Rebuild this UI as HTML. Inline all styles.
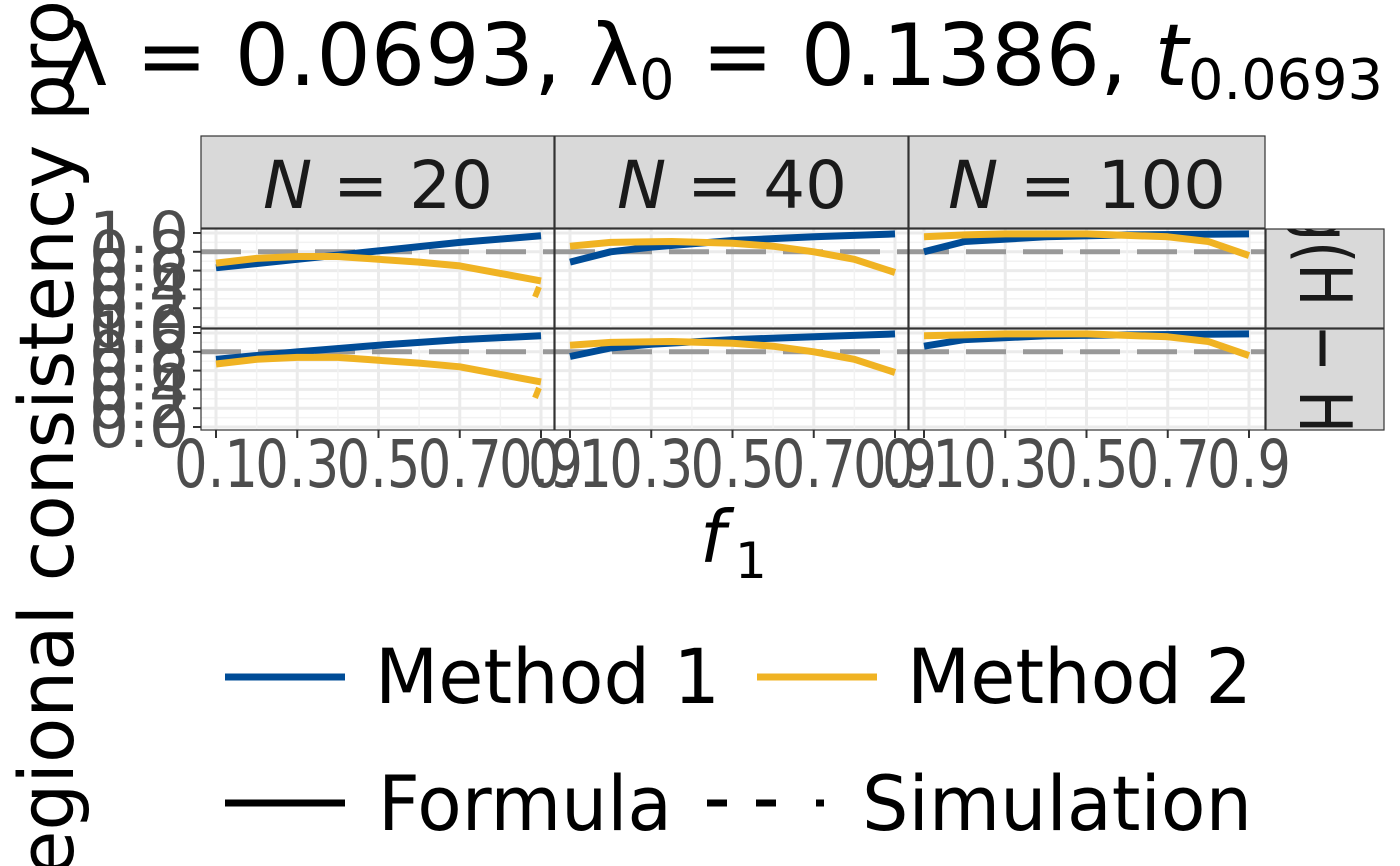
<!DOCTYPE html>
<html><head><meta charset="utf-8"><style>
html,body{margin:0;padding:0;background:#fff;width:1400px;height:866px;overflow:hidden}
svg{display:block}
text{font-family:"DejaVu Sans","Liberation Sans",sans-serif}
</style></head><body>
<svg id="s" width="1400" height="866" viewBox="0 0 1400 866" xmlns="http://www.w3.org/2000/svg">
<defs><clipPath id="cs"><rect x="1266" y="229" width="118" height="201"/></clipPath></defs>
<rect width="1400" height="866" fill="#fff"/>
<g id="panels"></g>
<!-- strips -->
<rect x="201" y="136" width="353" height="92" fill="#d9d9d9" stroke="#333" stroke-width="1.2"/>
<rect x="555" y="136" width="353" height="92" fill="#d9d9d9" stroke="#333" stroke-width="1.2"/>
<rect x="909" y="136" width="356" height="92" fill="#d9d9d9" stroke="#333" stroke-width="1.2"/>
<text x="378" y="208" font-size="66" text-anchor="middle" fill="#1a1a1a" textLength="230" lengthAdjust="spacingAndGlyphs"><tspan font-style="italic">N</tspan> = 20</text>
<text x="732" y="208" font-size="66" text-anchor="middle" fill="#1a1a1a" textLength="230" lengthAdjust="spacingAndGlyphs"><tspan font-style="italic">N</tspan> = 40</text>
<text x="1087" y="208" font-size="66" text-anchor="middle" fill="#1a1a1a" textLength="278" lengthAdjust="spacingAndGlyphs"><tspan font-style="italic">N</tspan> = 100</text>
<rect x="1266" y="229" width="118" height="99" fill="#d9d9d9" stroke="#333" stroke-width="1.2"/>
<rect x="1266" y="329" width="118" height="101" fill="#d9d9d9" stroke="#333" stroke-width="1.2"/>
<g clip-path="url(#cs)"><text transform="translate(1300,205) rotate(90)" font-size="72" fill="#1a1a1a" textLength="228" lengthAdjust="spacingAndGlyphs">g(H − H</text></g>
<!-- title -->
<text x="58" y="85" font-size="86" fill="#000" textLength="1325" lengthAdjust="spacingAndGlyphs">λ = 0.0693, λ<tspan font-size="56" dy="14">0</tspan><tspan dy="-14"> = 0.1386, </tspan><tspan font-style="italic">t</tspan><tspan font-size="56" dy="14">0.0693</tspan></text>
<!-- y title -->
<text transform="translate(73,905) rotate(-90)" font-size="76" fill="#000" textLength="905" lengthAdjust="spacingAndGlyphs">regional consistency pro</text>
<!-- x title -->
<text x="700" y="562" font-size="72" font-style="italic" fill="#000">f</text>
<text x="735" y="578" font-size="50" fill="#000">1</text>
<!-- legend -->
<line x1="225" y1="677" x2="345" y2="677" stroke="#004C97" stroke-width="7"/>
<text x="375" y="703" font-size="76" fill="#000" textLength="345" lengthAdjust="spacingAndGlyphs">Method 1</text>
<line x1="757" y1="677" x2="877" y2="677" stroke="#F0B323" stroke-width="7"/>
<text x="907" y="703" font-size="76" fill="#000" textLength="345" lengthAdjust="spacingAndGlyphs">Method 2</text>
<line x1="225" y1="803" x2="345" y2="803" stroke="#000" stroke-width="7"/>
<text x="378" y="830" font-size="76" fill="#000" textLength="294" lengthAdjust="spacingAndGlyphs">Formula</text>
<line x1="707" y1="803" x2="727" y2="803" stroke="#000" stroke-width="7"/>
<line x1="756" y1="803" x2="776" y2="803" stroke="#000" stroke-width="7"/>
<line x1="816" y1="803" x2="824" y2="803" stroke="#000" stroke-width="7"/>
<text x="862" y="830" font-size="76" fill="#000" textLength="390" lengthAdjust="spacingAndGlyphs">Simulation</text>
</svg>
<script>
(function(){
var NS="http://www.w3.org/2000/svg",g=document.getElementById("panels");
function el(t,a){var e=document.createElementNS(NS,t);for(var k in a)e.setAttribute(k,a[k]);g.appendChild(e);return e;}
var cols=[[201,554,216],[555,908,570],[909,1265,924]];
var rows=[[229,328,327],[329,430,427]];
var blue=[[[.1,.63],[.3,.72],[.5,.81],[.7,.9],[.9,.97]],[[.1,.69],[.2,.8],[.3,.85],[.5,.92],[.7,.96],[.9,.99]],[[.1,.8],[.2,.91],[.4,.96],[.6,.98],[.9,.99]]];
var blue2=[[[.1,.72],[.3,.8],[.5,.87],[.7,.93],[.9,.97]],[[.1,.75],[.2,.84],[.3,.88],[.5,.93],[.7,.96],[.9,.99]],[[.1,.86],[.2,.93],[.4,.97],[.6,.98],[.9,.99]]];
var orng=[[[.1,.68],[.2,.73],[.3,.75],[.4,.75],[.5,.72],[.6,.69],[.7,.65],[.8,.57],[.9,.49]],[[.1,.86],[.2,.9],[.35,.91],[.5,.89],[.6,.86],[.7,.8],[.8,.72],[.9,.58]],[[.1,.96],[.2,.98],[.3,.99],[.5,.99],[.7,.96],[.8,.91],[.9,.76]]];
var orng2=[[[.1,.67],[.2,.72],[.3,.74],[.4,.74],[.5,.71],[.6,.68],[.7,.64],[.8,.56],[.9,.48]],[[.1,.87],[.2,.9],[.35,.91],[.5,.89],[.6,.86],[.7,.8],[.8,.72],[.9,.58]],[[.1,.97],[.2,.98],[.3,.99],[.5,.99],[.7,.96],[.8,.91],[.9,.76]]];
for(var r=0;r<2;r++)for(var c=0;c<3;c++){
 var x0=cols[c][0],x1=cols[c][1],xb=cols[c][2],y0=rows[r][0],y1=rows[r][1],yb=rows[r][2];
 var X=function(f){return xb+(f-.1)*406.25},Y=function(v){return yb-94*v};
 el("rect",{x:x0,y:y0,width:x1-x0,height:y1-y0,fill:"#fff"});
 for(var v=0.1;v<1;v+=0.2)el("line",{x1:x0,x2:x1,y1:Y(v),y2:Y(v),stroke:"#f2f2f2","stroke-width":1.5});
 for(var v=0;v<=1.01;v+=0.2)el("line",{x1:x0,x2:x1,y1:Y(v),y2:Y(v),stroke:"#ebebeb","stroke-width":3});
 for(var f=0.2;f<0.9;f+=0.2)el("line",{x1:X(f),x2:X(f),y1:y0,y2:y1,stroke:"#f2f2f2","stroke-width":1.5});
 for(var f=0.1;f<1;f+=0.2)el("line",{x1:X(f),x2:X(f),y1:y0,y2:y1,stroke:"#ebebeb","stroke-width":3});
 el("line",{x1:x0,x2:x1,y1:Y(.8),y2:Y(.8),stroke:"#999","stroke-width":5,"stroke-dasharray":"40 17"});
 function path(pts,col,dash){var d=pts.map(function(p,i){return(i?"L":"M")+X(p[0]).toFixed(1)+","+Y(p[1]).toFixed(1)}).join("");var a={d:d,fill:"none",stroke:col,"stroke-width":7,"stroke-linejoin":"round"};if(dash)a["stroke-dasharray"]=dash;el("path",a);}
 path((r?blue2:blue)[c],"#004C97");
 path((r?orng2:orng)[c],"#F0B323");
 if(c==0){var o=(r?orng2:orng)[0];el("line",{x1:X(.9)-2,y1:Y(o[8][1])+6,x2:X(.9)-6,y2:Y(o[8][1])+16,stroke:"#F0B323","stroke-width":6});}
 el("rect",{x:x0,y:y0,width:x1-x0,height:y1-y0,fill:"none",stroke:"#333","stroke-width":1.2});
 if(c==0){
  var labs=["0.0","0.2","0.4","0.6","0.8","1.0"];
  for(var i=0;i<6;i++){var yy=Y(i*0.2);el("line",{x1:x0-8,x2:x0,y1:yy,y2:yy,stroke:"#333","stroke-width":2});
   var t=el("text",{x:x0-12,y:yy+20,"font-size":58,fill:"#4d4d4d","text-anchor":"end",textLength:100,lengthAdjust:"spacingAndGlyphs"});t.textContent=labs[i];}
 }
 if(r==1){
  var xl=["0.1","0.3","0.5","0.7","0.9"];
  for(var i=0;i<5;i++){var xx=X(.1+i*.2);el("line",{x1:xx,x2:xx,y1:y1,y2:y1+8,stroke:"#333","stroke-width":2});
   var t=el("text",{x:xx-42,y:487,"font-size":66,fill:"#4d4d4d",textLength:84,lengthAdjust:"spacingAndGlyphs"});t.textContent=xl[i];}
 }
}
})();
</script>
</body></html>
